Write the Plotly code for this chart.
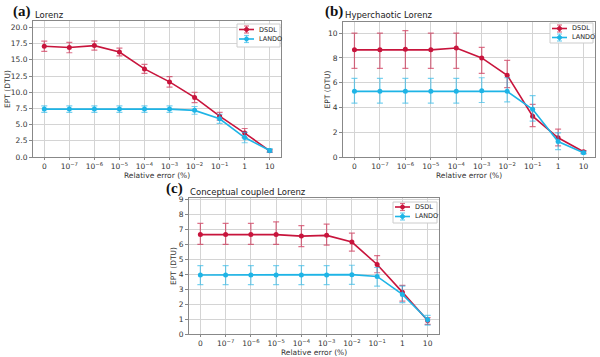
import plotly.graph_objects as go

categories = ["0", "10<sup>−7</sup>", "10<sup>−6</sup>", "10<sup>−5</sup>", "10<sup>−4</sup>",
              "10<sup>−3</sup>", "10<sup>−2</sup>", "10<sup>−1</sup>", "1", "10"]
series_names = ["DSDL", "LANDO"]
x_title = "Relative error (%)"
y_title = "EPT (DTU)"

# (a) Lorenz
a_dsdl = [17.1, 16.9, 17.2, 16.2, 13.6, 11.6, 9.2, 6.3, 3.7, 0.95]
a_dsdl_err = [0.8, 0.8, 0.7, 0.6, 0.7, 0.8, 0.8, 0.6, 0.7, 0.2]
a_lando = [7.4, 7.4, 7.4, 7.4, 7.4, 7.4, 7.2, 5.9, 3.0, 1.0]
a_lando_err = [0.5, 0.5, 0.5, 0.5, 0.5, 0.5, 0.6, 0.7, 0.8, 0.3]

# (b) Hyperchaotic Lorenz
b_dsdl = [8.65, 8.65, 8.7, 8.65, 8.8, 8.0, 6.6, 3.3, 1.55, 0.42]
b_dsdl_up = [1.35, 1.35, 1.5, 1.35, 1.2, 0.85, 1.2, 0.95, 0.7, 0.1]
b_dsdl_dn = [1.5, 1.5, 1.55, 1.5, 1.65, 1.25, 1.0, 0.85, 0.65, 0.1]
b_lando = [5.3, 5.3, 5.3, 5.3, 5.3, 5.35, 5.3, 3.85, 1.25, 0.35]
b_lando_up = [1.05, 1.05, 1.05, 1.05, 1.05, 1.05, 1.1, 1.1, 0.7, 0.1]
b_lando_dn = [0.95, 0.95, 0.95, 0.95, 0.95, 0.95, 0.85, 0.95, 0.65, 0.1]

# (c) Conceptual coupled Lorenz
c_dsdl = [6.65, 6.65, 6.65, 6.65, 6.55, 6.6, 6.15, 4.65, 2.8, 0.9]
c_dsdl_up = [0.75, 0.75, 0.75, 0.85, 0.7, 0.75, 0.6, 0.6, 0.45, 0.2]
c_dsdl_dn = [0.65, 0.65, 0.65, 0.65, 0.7, 0.65, 0.6, 0.55, 0.6, 0.25]
c_lando = [3.95, 3.95, 3.95, 3.95, 3.95, 3.95, 3.97, 3.85, 2.65, 0.95]
c_lando_up = [0.63, 0.63, 0.63, 0.63, 0.63, 0.63, 0.63, 0.6, 0.55, 0.3]
c_lando_dn = [0.65, 0.65, 0.65, 0.65, 0.65, 0.65, 0.65, 0.65, 0.55, 0.35]

RED = "#c8143c"
RED_ERR = "rgba(200,20,60,0.6)"
BLUE = "#1eb4e6"
BLUE_ERR = "rgba(30,180,230,0.6)"

W, H = 600, 357


def px(x):
    return x / W


def py(y):
    return 1 - y / H


xs = list(range(len(categories)))
fig = go.Figure()

panels = [
    ("x", "y", a_dsdl, a_dsdl_err, a_dsdl_err, a_lando, a_lando_err, a_lando_err),
    ("x2", "y2", b_dsdl, b_dsdl_up, b_dsdl_dn, b_lando, b_lando_up, b_lando_dn),
    ("x3", "y3", c_dsdl, c_dsdl_up, c_dsdl_dn, c_lando, c_lando_up, c_lando_dn),
]

for xa, ya, d, du, dd, l, lu, ld in panels:
    fig.add_trace(go.Scatter(
        x=xs, y=d, name=series_names[0], mode="lines+markers", xaxis=xa, yaxis=ya,
        showlegend=False,
        line=dict(color=RED, width=1.6), marker=dict(color=RED, size=5),
        error_y=dict(type="data", symmetric=False, array=du, arrayminus=dd,
                     color=RED_ERR, thickness=1.2, width=3)))
    fig.add_trace(go.Scatter(
        x=xs, y=l, name=series_names[1], mode="lines+markers", xaxis=xa, yaxis=ya,
        showlegend=False,
        line=dict(color=BLUE, width=1.6), marker=dict(color=BLUE, size=5),
        error_y=dict(type="data", symmetric=False, array=lu, arrayminus=ld,
                     color=BLUE_ERR, thickness=1.2, width=3)))

tickfont = dict(family="DejaVu Sans", size=7.5, color="#333333")
titlefont = dict(family="DejaVu Sans", size=7.5, color="#333333")


def xaxis(x0, x1, y0, y1, anchor):
    return dict(domain=[px(x0), px(x1)], anchor=anchor, range=[-0.45, 9.45], automargin=False,
                tickvals=xs, ticktext=categories, tickfont=tickfont,
                showgrid=True, gridcolor="#d4d4d4", gridwidth=1,
                showline=True, linecolor="#888888", linewidth=1, mirror=True,
                ticks="outside", ticklen=2, tickcolor="#888888", zeroline=False)


def yaxis(x0, x1, y0, y1, anchor, rng, dtick, fmt):
    return dict(domain=[py(y1), py(y0)], anchor=anchor, range=rng, dtick=dtick, tick0=0,
                automargin=False, tickformat=fmt, tickfont=tickfont,
                showgrid=True, gridcolor="#d4d4d4", gridwidth=1,
                showline=True, linecolor="#888888", linewidth=1, mirror=True,
                ticks="outside", ticklen=3, tickcolor="#888888", zeroline=False)


# panel frames in reference pixels: x0, x1, y0(top), y1(bottom)
fa = (33, 281, 21, 157)
fb = (343, 595, 22, 157)
fc = (189, 439, 198, 334)

fig.update_layout(
    width=W, height=H,
    margin=dict(l=0, r=0, t=0, b=0),
    paper_bgcolor="white", plot_bgcolor="white",
    showlegend=False,
    xaxis=xaxis(*fa, "y"),
    yaxis=yaxis(*fa, "x", [0, 21], 2.5, ".1f"),
    xaxis2=xaxis(*fb, "y2"),
    yaxis2=yaxis(*fb, "x2", [0, 10.9], 2, "d"),
    xaxis3=xaxis(*fc, "y3"),
    yaxis3=yaxis(*fc, "x3", [0, 9.1], 1, "d"),
)

# axis titles: (frame, x-title y, y-title x)
for (x0, x1, y0, y1), xty, ytx in [(fa, 175, 7), (fb, 175, 327), (fc, 352, 173)]:
    fig.add_annotation(x=px((x0 + x1) / 2), y=py(xty), xref="paper", yref="paper",
                       text=x_title, showarrow=False, xanchor="center", yanchor="middle",
                       font=titlefont)
    fig.add_annotation(x=px(ytx), y=py((y0 + y1) / 2), xref="paper", yref="paper",
                       text=y_title, showarrow=False, xanchor="center", yanchor="middle",
                       textangle=-90, font=titlefont)

annots = [
    (11, 11, "(a)", 33, 15, "Lorenz"),
    (323, 11, "(b)", 343, 15, "Hyperchaotic Lorenz"),
    (164, 188, "(c)", 188, 192, "Conceptual coupled Lorenz"),
]
for lx, ly, lab, tx, ty, title in annots:
    fig.add_annotation(x=px(lx), y=py(ly), xref="paper", yref="paper",
                       text="<b>" + lab + "</b>", showarrow=False,
                       xanchor="left", yanchor="middle",
                       font=dict(family="Liberation Serif", size=15, color="#111111"))
    fig.add_annotation(x=px(tx), y=py(ty), xref="paper", yref="paper",
                       text=title, showarrow=False, xanchor="left", yanchor="middle",
                       font=dict(family="DejaVu Sans", size=8.5, color="#222222"))

# legends (box x0, x1, y0, y1, row1 y, row2 y, line x0, line x1, text x)
legends = [
    (237, 280, 24, 47, 29.5, 39, 239, 254, 257),
    (550, 593, 23, 43, 28.5, 37.5, 552, 567, 570),
    (393, 437, 202, 223, 207, 216.5, 395, 410, 413),
]
for bx0, bx1, by0, by1, r1, r2, lx0, lx1, tx in legends:
    fig.add_shape(type="rect", xref="paper", yref="paper",
                  x0=px(bx0), x1=px(bx1), y0=py(by1), y1=py(by0),
                  line=dict(color="#cccccc", width=1), fillcolor="white", layer="above")
    for ry, col, ecol, name in [(r1, RED, RED_ERR, series_names[0]),
                                (r2, BLUE, BLUE_ERR, series_names[1])]:
        cx = (lx0 + lx1) / 2
        fig.add_shape(type="line", xref="paper", yref="paper",
                      x0=px(lx0), x1=px(lx1), y0=py(ry), y1=py(ry),
                      line=dict(color=col, width=1.6), layer="above")
        fig.add_shape(type="line", xref="paper", yref="paper",
                      x0=px(cx), x1=px(cx), y0=py(ry - 3.5), y1=py(ry + 3.5),
                      line=dict(color=ecol, width=1.2), layer="above")
        for cy in (ry - 3.5, ry + 3.5):
            fig.add_shape(type="line", xref="paper", yref="paper",
                          x0=px(cx - 2.5), x1=px(cx + 2.5), y0=py(cy), y1=py(cy),
                          line=dict(color=ecol, width=1.2), layer="above")
        fig.add_shape(type="circle", xref="paper", yref="paper",
                      x0=px(cx - 2), x1=px(cx + 2), y0=py(ry + 2), y1=py(ry - 2),
                      line=dict(color=col, width=1), fillcolor=col, layer="above")
        fig.add_annotation(x=px(tx), y=py(ry), xref="paper", yref="paper",
                           text=name, showarrow=False, xanchor="left", yanchor="middle",
                           font=dict(family="DejaVu Sans", size=6.5, color="#222222"))

fig.write_html("out.html", config={"displayModeBar": False},
               post_script="document.body.style.margin='0';")
